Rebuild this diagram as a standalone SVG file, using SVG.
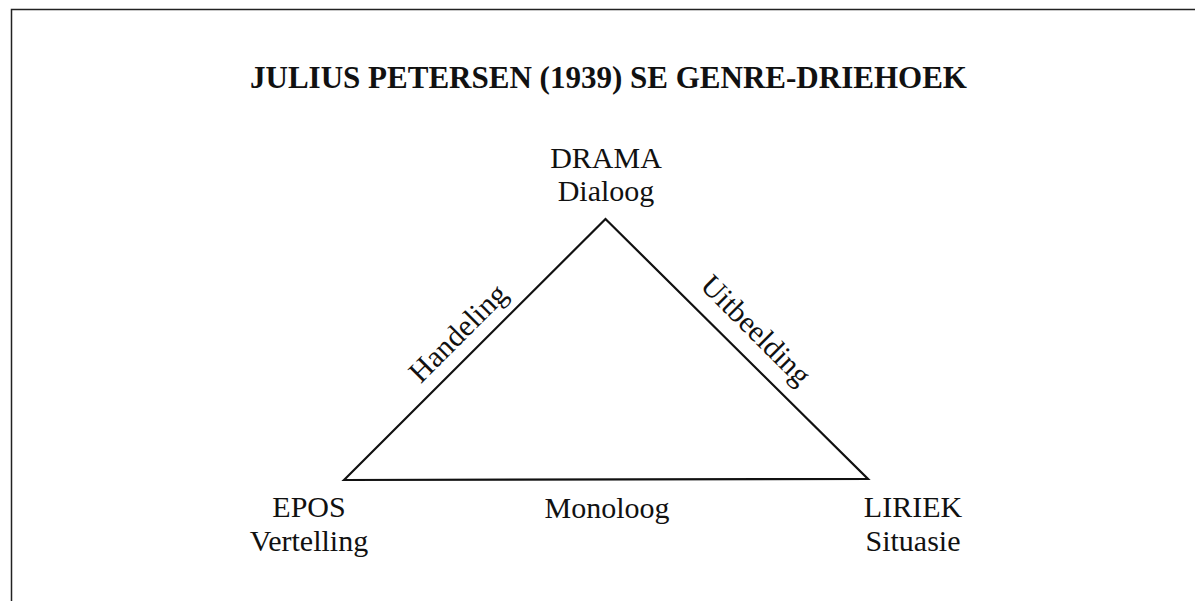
<svg xmlns="http://www.w3.org/2000/svg" width="1195" height="601" viewBox="0 0 1195 601">
<style>
text{font-family:"Liberation Serif","Times New Roman",serif;fill:#111;}
.lbl{font-size:30px;text-anchor:middle;}
.title{font-size:31px;font-weight:bold;text-anchor:middle;}
.edge{stroke:#111;stroke-width:2.2;fill:none;stroke-linecap:round;stroke-linejoin:miter;}
.frame{stroke:#222;stroke-width:1.5;fill:none;}
</style>
<rect width="1195" height="601" fill="#fff"/>
<path class="frame" d="M11.5,601 L11.5,9.5 L1195,9.5"/>
<text class="title" x="608.5" y="88" textLength="717" lengthAdjust="spacingAndGlyphs">JULIUS PETERSEN (1939) SE GENRE-DRIEHOEK</text>
<g id="connectors">
<path class="edge" d="M344,480 L605.5,219 L868,479 Z"/>
<text class="lbl" transform="translate(465,340) rotate(-45)">Handeling</text>
<text class="lbl" transform="translate(749,337) rotate(45)">Uitbeelding</text>
<text class="lbl" x="607" y="518">Monoloog</text>
</g>
<g id="drama">
<text class="lbl" x="606" y="168">DRAMA</text>
<text class="lbl" x="606" y="201">Dialoog</text>
</g>
<g id="epos">
<text class="lbl" x="309" y="517">EPOS</text>
<text class="lbl" x="309" y="551">Vertelling</text>
</g>
<g id="liriek">
<text class="lbl" x="913" y="517">LIRIEK</text>
<text class="lbl" x="913" y="551">Situasie</text>
</g>
</svg>
